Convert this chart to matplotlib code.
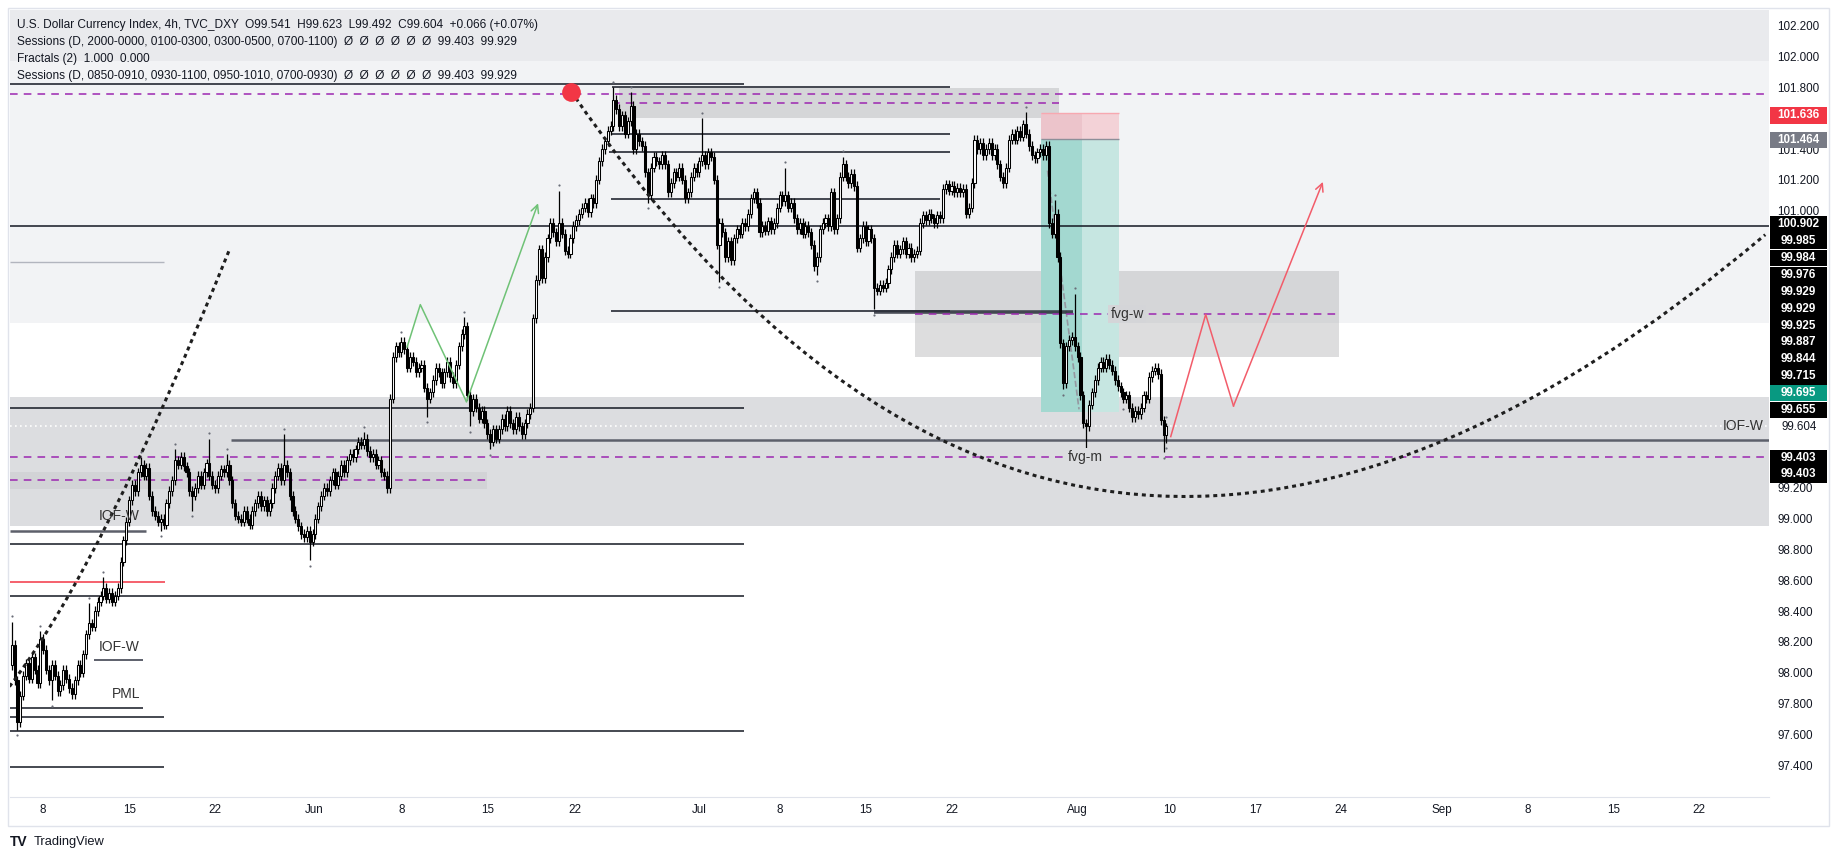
import numpy as np
import matplotlib
matplotlib.use("Agg")
import matplotlib.pyplot as plt
import matplotlib.transforms as mtransforms
from matplotlib.patches import Rectangle, PathPatch
from matplotlib.path import Path

plt.rcParams['font.family'] = ['Liberation Sans', 'DejaVu Sans']

# ---- data (4h bars, index = bar number) ----
first_open = 98.05
closes = [
    98.18, 97.95, 97.68, 97.85, 97.98, 98.06, 97.96, 98.10, 98.02, 97.93,
    98.22, 98.15, 98.02, 97.95, 98.05, 97.98, 97.88, 97.92, 98.02, 97.96,
    97.90, 97.86, 97.95, 98.05, 98.00, 98.12, 98.25, 98.32, 98.30, 98.40,
    98.46, 98.50, 98.55, 98.48, 98.52, 98.46, 98.50, 98.55, 98.72, 98.86,
    98.98, 99.12, 99.22, 99.18, 99.30, 99.35, 99.28, 99.33, 99.15, 99.05,
    99.02, 98.98, 99.00, 98.96, 99.10, 99.18, 99.25, 99.38, 99.35, 99.40,
    99.34, 99.30, 99.18, 99.15, 99.20, 99.28, 99.22, 99.30, 99.36, 99.28,
    99.22, 99.20, 99.28, 99.32, 99.30, 99.35, 99.25, 99.10, 99.02, 99.00,
    98.98, 99.05, 99.00, 98.96, 99.05, 99.10, 99.15, 99.08, 99.12, 99.05,
    99.10, 99.20, 99.28, 99.33, 99.25, 99.35, 99.30, 99.15, 99.05, 99.00,
    98.95, 98.90, 98.88, 98.92, 98.85, 98.90, 99.00, 99.08, 99.15, 99.20,
    99.18, 99.25, 99.30, 99.22, 99.28, 99.35, 99.30, 99.38, 99.42, 99.40,
    99.45, 99.50, 99.48, 99.52, 99.44, 99.40, 99.42, 99.35, 99.38, 99.30,
    99.28, 99.20, 99.78, 100.05, 100.12, 100.08, 100.15, 100.10, 99.98, 100.05,
    100.02, 99.95, 99.98, 100.00, 99.85, 99.78, 99.82, 99.90, 99.98, 99.95,
    99.88, 99.95, 100.02, 99.92, 99.88, 100.00, 100.12, 100.20, 100.25, 99.80,
    99.70, 99.78, 99.72, 99.65, 99.70, 99.62, 99.55, 99.50, 99.58, 99.52,
    99.58, 99.65, 99.60, 99.70, 99.62, 99.58, 99.66, 99.60, 99.55, 99.62,
    99.68, 99.72, 100.30, 100.55, 100.75, 100.56, 100.70, 100.82, 100.92, 100.86,
    100.80, 100.92, 100.85, 100.74, 100.72, 100.82, 100.90, 100.94, 100.98, 101.02,
    101.05, 100.99, 101.08, 101.05, 101.20, 101.32, 101.40, 101.45, 101.52, 101.55,
    101.72, 101.66, 101.55, 101.62, 101.50, 101.58, 101.68, 101.40, 101.50, 101.45,
    101.42, 101.25, 101.10, 101.28, 101.35, 101.32, 101.30, 101.36, 101.30, 101.12,
    101.18, 101.25, 101.22, 101.28, 101.20, 101.08, 101.12, 101.22, 101.28, 101.25,
    101.32, 101.36, 101.30, 101.38, 101.35, 101.20, 100.78, 100.92, 100.86, 100.70,
    100.80, 100.68, 100.82, 100.88, 100.85, 100.92, 100.90, 100.98, 101.08, 101.12,
    101.05, 100.86, 100.90, 100.87, 100.93, 100.88, 100.92, 101.02, 101.10, 101.06,
    101.10, 101.02, 101.05, 100.95, 100.88, 100.92, 100.85, 100.90, 100.86, 100.78,
    100.64, 100.70, 100.88, 100.92, 100.95, 100.90, 101.12, 100.88, 100.95, 101.22,
    101.30, 101.22, 101.18, 101.24, 101.16, 100.76, 100.82, 100.90, 100.80, 100.88,
    100.82, 100.50, 100.48, 100.52, 100.50, 100.53, 100.62, 100.70, 100.78, 100.72,
    100.75, 100.80, 100.72, 100.76, 100.70, 100.72, 100.74, 100.92, 100.97, 100.94,
    100.98, 100.95, 100.92, 100.97, 100.95, 101.14, 101.17, 101.13, 101.16, 101.12,
    101.15, 101.12, 101.14, 100.98, 101.02, 101.18, 101.46, 101.40, 101.44, 101.36,
    101.40, 101.44, 101.36, 101.40, 101.30, 101.22, 101.18, 101.28, 101.46, 101.50,
    101.46, 101.52, 101.48, 101.56, 101.50, 101.42, 101.36, 101.34, 101.38, 101.40,
    101.36, 101.42, 100.92, 100.85, 100.98, 100.70, 100.14, 99.88, 100.12, 100.16,
    100.18, 100.12, 100.05, 99.80, 99.62, 99.60, 99.74, 99.82, 99.90, 99.98,
    100.02, 99.98, 100.04, 100.00, 99.96, 99.90, 99.86, 99.82, 99.78, 99.80,
    99.72, 99.66, 99.70, 99.68, 99.72, 99.80, 99.78, 99.92, 99.96, 99.98,
    99.94, 99.64, 99.541, 99.604,
]
# notable wick extremes
spike_high = {0: 98.33, 10: 98.27, 27: 98.45, 32: 98.62, 45: 99.40, 57: 99.45,
              69: 99.52, 75: 99.42, 95: 99.55, 123: 99.56, 136: 100.17,
              158: 100.31, 191: 101.13, 210: 101.80, 216: 101.77, 241: 101.60,
              270: 101.28, 290: 101.35, 354: 101.64, 364: 101.07, 371: 100.46,
              403: 99.623}
spike_low = {2: 97.63, 14: 97.82, 52: 98.92, 63: 99.05, 104: 98.73,
             145: 99.66, 160: 99.60, 167: 99.45, 222: 101.05, 247: 100.54,
             281: 100.58, 301: 100.36, 367: 99.84, 375: 99.43, 388: 99.75,
             402: 99.43, 403: 99.492}

tick_pos = [11, 41, 71, 105.5, 136, 166, 196.5, 240, 268, 298, 328, 372,
            404, 434, 464, 499, 529, 559, 589]
tick_lab = ['8', '15', '22', 'Jun', '8', '15', '22', 'Jul', '8', '15', '22',
            'Aug', '10', '17', '24', 'Sep', '8', '15', '22']
price_ticks = [97.4, 97.6, 97.8, 98.0, 98.2, 98.4, 98.6, 98.8, 99.0, 99.2,
               101.0, 101.2, 101.4, 101.8, 102.0, 102.2]

stack_labels = ['100.902', '99.985', '99.984', '99.976', '99.929', '99.929',
                '99.925', '99.887', '99.844', '99.715', '99.695', '99.655']

# drawing anchors (bar, price)
arc_pts = [(195.3, 101.773), (369.6, 97.03), (612.0, 100.844)]
left_curve_pts = [(-0.8, 97.91), (31.9, 98.71), (76.1, 100.752)]
green_path = [(138.0, 100.115), (142.6, 100.39), (158.7, 99.76), (183.7, 101.048)]
red_path = [(404.5, 99.533), (416.7, 100.326), (426.4, 99.732), (457.6, 101.187)]
entry, stop, target = 101.464, 101.636, 99.695

# ---- figure ----
W, H = 1840, 858
fig = plt.figure(figsize=(W / 100, H / 100), dpi=100)


def px_rect(l, t, r, b):
    return [l / W, 1 - b / H, (r - l) / W, (b - t) / H]


ax = fig.add_axes(px_rect(10, 10, 1769, 797))
ax.set_xlim(-0.6, 613.3)
ax.set_ylim(97.193, 102.303)
for s in ['top', 'left', 'right']:
    ax.spines[s].set_visible(False)
ax.spines['bottom'].set_color('#e0e3eb')

# background zones
ax.axhspan(101.971, 103, color='#e9eaed', lw=0, zorder=0)
ax.axhspan(100.272, 101.971, color='#f2f3f5', lw=0, zorder=0)
ax.axhspan(98.954, 99.792, color='#dcdde0', lw=0, zorder=0)
ax.add_patch(Rectangle((-0.6, 99.19), 166.6, 0.115, color='#d2d3d6', lw=0, zorder=0.5))
ax.add_patch(Rectangle((212, 101.603), 153.6, 0.193, color='#aeafb2', alpha=0.42, lw=0, zorder=0.6))
ax.add_patch(Rectangle((315.4, 100.05), 148.0, 0.56, color='#aeafb2', alpha=0.42, lw=0, zorder=0.6))

# short position boxes
ax.add_patch(Rectangle((359.2, entry), 14.5, stop - entry, color='#ecc4cb', lw=0, zorder=0.7))
ax.add_patch(Rectangle((373.7, entry), 12.8, stop - entry, color='#f3d2d7', lw=0, zorder=0.7))
ax.add_patch(Rectangle((359.2, target), 14.5, entry - target, color='#a3d8d0', lw=0, zorder=0.7))
ax.add_patch(Rectangle((373.7, target), 12.8, entry - target, color='#c6e6e1', lw=0, zorder=0.7))
ax.hlines(stop, 359.2, 386.5, color='#f7a8b0', lw=1, zorder=0.8)
ax.hlines(entry, 359.2, 386.5, color='#8c8f99', lw=1, zorder=0.8)
ax.plot([361.5, 372.5], [101.26, 99.71], ls='--', color='#9598a1', lw=1.2, zorder=0.8)

# horizontal levels
blk = '#131722'
ax.hlines(101.82, -0.6, 255.4, color=blk, lw=1.1, zorder=1)
ax.hlines(101.805, 209.6, 327.5, color=blk, lw=1.1, zorder=1)
ax.axhline(101.757, color='#9c27b0', lw=1.1, ls=(0, (5, 4)), zorder=1)
ax.hlines(101.70, 209.6, 365.6, color='#9c27b0', lw=1.1, ls=(0, (5, 4)), zorder=1)
ax.hlines(101.497, 209.6, 327.3, color=blk, lw=1.1, zorder=1)
ax.hlines(101.379, 208.6, 327.3, color=blk, lw=1.1, zorder=1)
ax.hlines(101.074, 209.0, 324.0, color=blk, lw=1.1, zorder=1)
ax.axhline(100.902, color=blk, lw=1.1, zorder=1)
ax.hlines(100.67, -0.6, 53.3, color='#b2b5be', lw=1, zorder=1)
ax.hlines(100.35, 209.0, 327.3, color=blk, lw=1.1, zorder=1)
ax.hlines(100.345, 300.9, 370.4, color='#2a2e39', lw=2.6, alpha=0.85, zorder=1)
ax.hlines(100.33, 315.4, 463.4, color='#9c27b0', lw=1.1, ls=(0, (5, 4)), zorder=1)
ax.hlines(99.716, -0.6, 255.4, color=blk, lw=1.1, zorder=1)
ax.axhline(99.604, color='white', lw=1.2, ls=(0, (1, 2)), zorder=1)
ax.hlines(99.51, 76.5, 613.3, color='#5d606b', lw=1.8, zorder=1)
ax.axhline(99.403, color='#9c27b0', lw=1.1, ls=(0, (5, 4)), zorder=1)
ax.hlines(99.251, -0.6, 166.0, color='#9c27b0', lw=1.1, ls=(0, (5, 4)), zorder=1)
ax.hlines(98.923, -0.6, 46.7, color='#5d606b', lw=1.8, zorder=1)
ax.hlines(98.836, -0.6, 255.4, color=blk, lw=1.1, zorder=1)
ax.hlines(98.589, -0.6, 53.6, color='#f23645', lw=1.1, zorder=1)
ax.hlines(98.498, -0.6, 255.4, color=blk, lw=1.1, zorder=1)
ax.hlines(98.08, 28.7, 45.8, color='#5d606b', lw=1.4, zorder=1)
ax.hlines(97.773, -0.6, 45.8, color=blk, lw=1.1, zorder=1)
ax.hlines(97.71, -0.6, 53.3, color=blk, lw=1.1, zorder=1)
ax.hlines(97.62, -0.6, 255.4, color=blk, lw=1.1, zorder=1)
ax.hlines(97.385, -0.6, 53.3, color=blk, lw=1.1, zorder=1)

# ---- candles ----
c = np.array(closes)
idx = np.arange(len(c))
o = np.r_[first_open, c[:-1]]
wick = 0.03
hi = np.maximum(o, c) + wick
lo = np.minimum(o, c) - wick
for k, v in spike_high.items():
    hi[k] = max(hi[k], v) if k != len(c) - 1 else v
for k, v in spike_low.items():
    lo[k] = min(lo[k], v) if k != len(c) - 1 else v
up = c >= o
body_bot = np.minimum(o, c)
body_h = np.maximum(np.abs(c - o), 0.012)
ax.vlines(idx, lo, hi, color='black', lw=0.9, zorder=3)
ax.bar(idx, body_h, bottom=body_bot, width=0.74,
       color=np.where(up, 'white', 'black'), edgecolor='black',
       linewidth=0.75, zorder=4)
# fractal markers
fh = list(spike_high.keys())
fl = list(spike_low.keys())
ax.scatter(fh, hi[fh] + 0.035, s=2.5, color='#6a6d78', zorder=4, lw=0)
ax.scatter(fl, lo[fl] - 0.035, s=2.5, color='#6a6d78', zorder=4, lw=0)

# ---- drawings ----
arc = Path(arc_pts, [Path.MOVETO, Path.CURVE3, Path.CURVE3])
ax.add_patch(PathPatch(arc, fill=False, edgecolor='#1e1e1e', lw=2.2,
                       ls=(0, (1.3, 1.3)), zorder=5))
lc = Path(left_curve_pts, [Path.MOVETO, Path.CURVE3, Path.CURVE3])
ax.add_patch(PathPatch(lc, fill=False, edgecolor='#1e1e1e', lw=2.2,
                       ls=(0, (1.3, 1.3)), zorder=5))

gx, gy = zip(*green_path)
ax.plot(gx[:-1], gy[:-1], color='#6fc276', lw=1.1, zorder=5)
ax.annotate('', xy=green_path[-1], xytext=green_path[-2],
            arrowprops=dict(arrowstyle='->', color='#6fc276', lw=1.1,
                            shrinkA=0, shrinkB=0, mutation_scale=14), zorder=5)
rx, ry = zip(*red_path)
ax.plot(rx[:-1], ry[:-1], color='#f25c6a', lw=1.1, zorder=5)
ax.annotate('', xy=red_path[-1], xytext=red_path[-2],
            arrowprops=dict(arrowstyle='->', color='#f25c6a', lw=1.1,
                            shrinkA=0, shrinkB=0, mutation_scale=14), zorder=5)
ax.plot([arc_pts[0][0]], [arc_pts[0][1]], 'o', ms=13.5, color='#f23645',
        mec='none', zorder=6)

lab = dict(fontsize=10, color='#333333', zorder=6)
ax.text(389.3, 100.33, 'fvg-w', ha='center', va='center',
        bbox=dict(boxstyle='square,pad=0.15', fc='#d4d5d8', ec='none'), **lab)
ax.text(374.6, 99.403, 'fvg-m', ha='center', va='center',
        bbox=dict(boxstyle='square,pad=0.15', fc='#dcdde0', ec='none'), **lab)
ax.text(611.3, 99.60, 'IOF-W', ha='right', va='center', **lab)
ax.text(30.2, 99.015, 'IOF-W', ha='left', va='center', **lab)
ax.text(30.2, 98.17, 'IOF-W', ha='left', va='center', **lab)
ax.text(34.8, 97.865, 'PML', ha='left', va='center', **lab)

# ---- axes ----
ax.yaxis.tick_right()
ax.set_yticks(price_ticks)
ax.set_yticklabels([f'{p:.3f}' for p in price_ticks])
ax.tick_params(axis='y', length=0, pad=6, labelsize=8.4, labelcolor=blk)
ax.set_xticks(tick_pos)
ax.set_xticklabels(tick_lab)
ax.tick_params(axis='x', length=0, pad=5, labelsize=8.4, labelcolor=blk)

trans = mtransforms.blended_transform_factory(ax.transAxes, ax.transData)
bw = (1827 - 1770) / 1759.0
bh = 0.108


def price_box(y, text, fc, tc='white', weight='bold'):
    ax.add_patch(Rectangle((1.0007, y - bh / 2), bw, bh, transform=trans,
                           facecolor=fc, edgecolor='none', clip_on=False, zorder=8))
    ax.text(1.0007 + bw / 2, y, text, transform=trans, ha='center', va='center',
            fontsize=8.4, color=tc, fontweight=weight, clip_on=False, zorder=9)


price_box(101.62, '101.636', '#f23645')
price_box(101.458, '101.464', '#787b86')
for k, t in enumerate(stack_labels):
    price_box(100.912 - 0.1097 * k, t, '#089981' if t == '99.695' else '#000000')
price_box(99.597, '99.604', 'white', blk, 'normal')
price_box(99.395, '99.403', '#000000')
price_box(99.289, '99.403', '#000000')

# ---- header / frame ----
hdr = ['U.S. Dollar Currency Index, 4h, TVC_DXY  O99.541  H99.623  L99.492  C99.604  +0.066 (+0.07%)',
       'Sessions (D, 2000-0000, 0100-0300, 0300-0500, 0700-1100)  \u00d8  \u00d8  \u00d8  \u00d8  \u00d8  \u00d8  99.403  99.929',
       'Fractals (2)  1.000  0.000',
       'Sessions (D, 0850-0910, 0930-1100, 0950-1010, 0700-0930)  \u00d8  \u00d8  \u00d8  \u00d8  \u00d8  \u00d8  99.403  99.929']
for k, t in enumerate(hdr):
    fig.text(17 / W, 1 - (25 + 17 * k) / H, t, fontsize=8.6, color=blk, va='center')

fig.add_artist(Rectangle((8 / W, 1 - 826 / H), (1829 - 8) / W, (826 - 8) / H,
                         transform=fig.transFigure, fill=False,
                         edgecolor='#e0e3eb', lw=1))
fig.text(10 / W, 1 - 842 / H, 'TV', fontsize=10, fontweight='heavy', color=blk, va='center')
fig.text(34 / W, 1 - 842 / H, 'TradingView', fontsize=9.3, color=blk, va='center')

fig.savefig('out.png', dpi=100)
